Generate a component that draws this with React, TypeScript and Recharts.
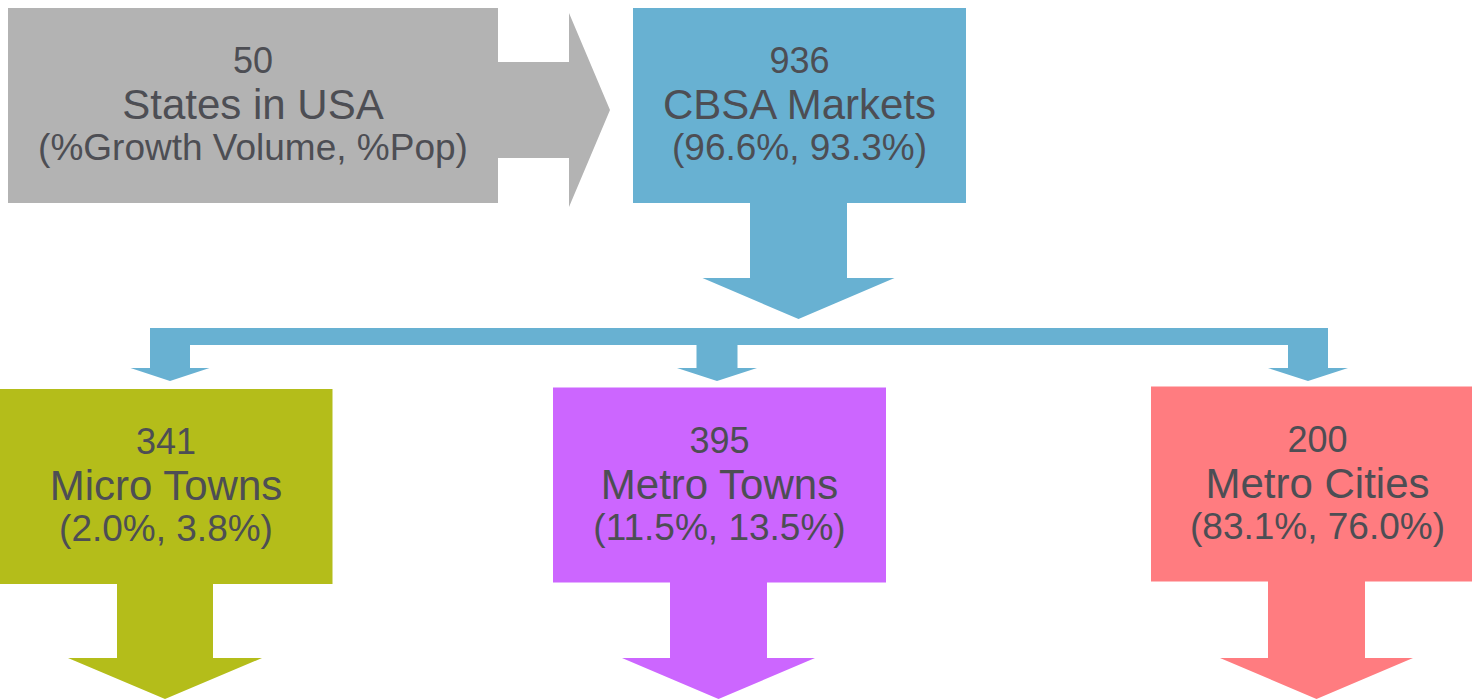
import React from 'react';
import { ScatterChart, Scatter, XAxis, YAxis } from 'recharts';

// ---- content data ----
const counts = [50, 936, 341, 395, 200];
const names = ['States in USA', 'CBSA Markets', 'Micro Towns', 'Metro Towns', 'Metro Cities'];
const shares = ['(%Growth Volume, %Pop)', '(96.6%, 93.3%)', '(2.0%, 3.8%)', '(11.5%, 13.5%)', '(83.1%, 76.0%)'];

// ---- layout (diagram coordinates in the chart's own data space) ----
const W = 1472;
const H = 699;
const nodeCenterX = [253, 799.5, 166, 719.5, 1317.5];
const nodeCenterY = [105.5, 105.5, 486.5, 485, 484];
const nodeWidth = [490, 333, 333, 333, 333];
const nodeHeight = 195;

// arrows: tip position, direction, and dimensions
const arrowTipX = [610, 798.5, 170, 717, 1308, 165, 718.5, 1316.5];
const arrowTipY = [110, 319, 381, 381, 381, 699, 699, 699];
const arrowDir = ['right', 'down', 'down', 'down', 'down', 'down', 'down', 'down'];
const arrowHeadLen = [41, 41, 13, 13, 13, 41, 41, 41];
const arrowHeadWidth = [194, 192, 79, 80, 80, 194, 193, 193];
const arrowShaftWidth = [96, 97, 40, 41, 40, 96, 97, 97];
const arrowShaftLen = [71, 75, 38, 38, 38, 74, 76, 77];

// connector bar
const barX = [150, 1328];
const barY = [328, 345];

// ---- styles ----
const nodeFill = ['#B3B3B3', '#68B1D2', '#B4BD1A', '#CC66FF', '#FF7C80'];
const arrowFill = ['#B3B3B3', '#68B1D2', '#68B1D2', '#68B1D2', '#68B1D2', '#B4BD1A', '#CC66FF', '#FF7C80'];
const TEXT = '#4D4E54';
const FONT = '"Liberation Sans", Arial, Helvetica, sans-serif';

const nodes = counts.map((c, i) => ({
  x: nodeCenterX[i],
  y: nodeCenterY[i],
  count: c,
  name: names[i],
  share: shares[i],
  w: nodeWidth[i],
  h: nodeHeight,
  fill: nodeFill[i],
}));

const arrows = arrowTipX.map((x, i) => ({
  x,
  y: arrowTipY[i],
  dir: arrowDir[i],
  hl: arrowHeadLen[i],
  hw: arrowHeadWidth[i],
  sw: arrowShaftWidth[i],
  sl: arrowShaftLen[i],
  fill: arrowFill[i],
}));

const connector = [
  { x: (barX[0] + barX[1]) / 2, y: (barY[0] + barY[1]) / 2, w: barX[1] - barX[0], h: barY[1] - barY[0] },
];

const NodeShape = (props: any) => {
  const { cx, cy, payload } = props;
  if (cx == null || cy == null) return null;
  const { w, h, fill, count, name, share } = payload;
  const top = cy - h / 2;
  return (
    <g>
      <rect x={cx - w / 2} y={top} width={w} height={h} fill={fill} />
      <text x={cx} y={top + 65} textAnchor="middle" fill={TEXT} fontFamily={FONT} fontSize={36}>
        {count}
      </text>
      <text x={cx} y={top + 111} textAnchor="middle" fill={TEXT} fontFamily={FONT} fontSize={42}>
        {name}
      </text>
      <text x={cx} y={top + 152} textAnchor="middle" fill={TEXT} fontFamily={FONT} fontSize={37}>
        {share}
      </text>
    </g>
  );
};

const ArrowShape = (props: any) => {
  const { cx, cy, payload } = props;
  if (cx == null || cy == null) return null;
  const { dir, hl, hw, sw, sl, fill } = payload;
  let pts: number[][];
  if (dir === 'down') {
    const base = cy - hl;
    const st = base - sl;
    pts = [
      [cx - sw / 2, st],
      [cx + sw / 2, st],
      [cx + sw / 2, base],
      [cx + hw / 2, base],
      [cx, cy],
      [cx - hw / 2, base],
      [cx - sw / 2, base],
    ];
  } else {
    const base = cx - hl;
    const st = base - sl;
    pts = [
      [st, cy - sw / 2],
      [base, cy - sw / 2],
      [base, cy - hw / 2],
      [cx, cy],
      [base, cy + hw / 2],
      [base, cy + sw / 2],
      [st, cy + sw / 2],
    ];
  }
  return <polygon points={pts.map((p) => p.join(',')).join(' ')} fill={fill} />;
};

const BarShape = (props: any) => {
  const { cx, cy, payload } = props;
  if (cx == null || cy == null) return null;
  return <rect x={cx - payload.w / 2} y={cy - payload.h / 2} width={payload.w} height={payload.h} fill="#68B1D2" />;
};

export default function App() {
  return (
    <div style={{ position: 'absolute', left: 0, top: 0, width: W, height: H, background: '#fff', overflow: 'hidden' }}>
      <ScatterChart width={W} height={H} margin={{ top: 0, right: 0, bottom: 0, left: 0 }}>
        <XAxis type="number" dataKey="x" domain={[0, W]} hide allowDataOverflow />
        <YAxis type="number" dataKey="y" domain={[0, H]} reversed hide allowDataOverflow />
        <Scatter data={connector} shape={BarShape} isAnimationActive={false} />
        <Scatter data={arrows} shape={ArrowShape} isAnimationActive={false} />
        <Scatter data={nodes} shape={NodeShape} isAnimationActive={false} />
      </ScatterChart>
    </div>
  );
}
